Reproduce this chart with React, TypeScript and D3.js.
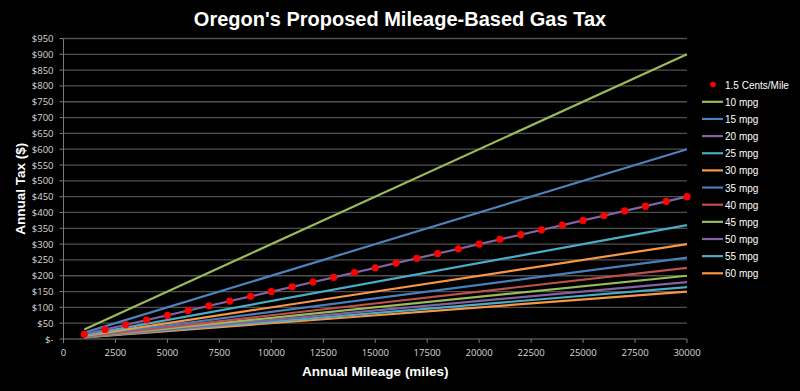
import * as d3 from "d3";

// legend / series labels
const mpgLabels = ["10 mpg", "15 mpg", "20 mpg", "25 mpg", "30 mpg", "35 mpg", "40 mpg", "45 mpg", "50 mpg", "55 mpg", "60 mpg"];
const mpgColors = ["#9bbb59", "#4f81bd", "#8064a2", "#4bacc6", "#f79646", "#4a7ebb", "#c0504d", "#9bbb59", "#8064a2", "#4bacc6", "#f79646"];
// tax at 1000 miles and at 30000 miles
const startMiles = 1000;
const endMiles = 30000;
const startTax = [30, 20, 15, 12, 10, 8.6, 7.5, 6.7, 6, 5.5, 5];
const endTax = [900, 600, 450, 360, 300, 257, 225, 200, 180, 164, 150];

// 1.5 cents/mile points
const centMiles = [1000, 2000, 3000, 4000, 5000, 6000, 7000, 8000, 9000, 10000, 11000, 12000, 13000, 14000, 15000, 16000, 17000, 18000, 19000, 20000, 21000, 22000, 23000, 24000, 25000, 26000, 27000, 28000, 29000, 30000];
const centTax = [15, 30, 45, 60, 75, 90, 105, 120, 135, 150, 165, 180, 195, 210, 225, 240, 255, 270, 285, 300, 315, 330, 345, 360, 375, 390, 405, 420, 435, 450];

const xTicks = [0, 2500, 5000, 7500, 10000, 12500, 15000, 17500, 20000, 22500, 25000, 27500, 30000];
const yTicks = d3.range(0, 1000, 50);

const W = 800;
const H = 391;
const M = { left: 63.5, right: 113, top: 38.5, bottom: 52 };

const App = () => {
  const x = d3.scaleLinear().domain([0, 30000]).range([M.left, W - M.right]);
  const y = d3.scaleLinear().domain([0, 950]).range([H - M.bottom, M.top]);
  const line = d3
    .line<[number, number]>()
    .x((d) => x(d[0]))
    .y((d) => y(d[1]));
  const font = "'Liberation Sans', Arial, sans-serif";
  const tickFont = "'Open Sans', 'DejaVu Sans', sans-serif";

  return (
    <svg width={W} height={H} style={{ position: "absolute", left: 0, top: 0, background: "#000" }}>
      <rect x={0} y={0} width={W} height={H} fill="#000" />
      <text x={400} y={26} textAnchor="middle" fill="#fff" fontFamily={font} fontWeight="bold" fontSize={20}>
        Oregon's Proposed Mileage-Based Gas Tax
      </text>

      {/* gridlines + y ticks */}
      {yTicks.map((t) => (
        <g key={t}>
          {t > 0 && (
            <line x1={M.left} x2={W - M.right} y1={y(t)} y2={y(t)} stroke="#505050" strokeWidth={1.3} />
          )}
          <line x1={M.left - 4} x2={M.left} y1={y(t)} y2={y(t)} stroke="#7a7a7a" />
          <text x={M.left - 10} y={y(t) + 3.5} textAnchor="end" fill="#d8d8d8" fontFamily={tickFont} fontSize={9.5}>
            {t === 0 ? "$-" : "$" + t}
          </text>
        </g>
      ))}
      <line x1={M.left} x2={M.left} y1={y(950)} y2={y(0)} stroke="#7a7a7a" />
      <line x1={M.left} x2={W - M.right} y1={y(0)} y2={y(0)} stroke="#7a7a7a" />
      {xTicks.map((t) => (
        <g key={t}>
          <line x1={x(t)} x2={x(t)} y1={y(0)} y2={y(0) + 4} stroke="#7a7a7a" />
          <text x={x(t)} y={y(0) + 17} textAnchor="middle" fill="#d8d8d8" fontFamily={tickFont} fontSize={9.5}>
            {t}
          </text>
        </g>
      ))}

      <text x={x(15000)} y={376} textAnchor="middle" fill="#fff" fontFamily={font} fontWeight="bold" fontSize={13.5}>
        Annual Mileage (miles)
      </text>
      <text
        transform={`translate(25,${(y(0) + y(950)) / 2}) rotate(-90)`}
        textAnchor="middle"
        fill="#fff"
        fontFamily={font}
        fontWeight="bold"
        fontSize={13.5}
      >
        Annual Tax ($)
      </text>

      {/* mpg lines, drawn last-first so 10 mpg is on top */}
      {mpgLabels
        .map((lab, i) => (
          <path
            key={lab}
            d={line([
              [startMiles, startTax[i]],
              [endMiles, endTax[i]],
            ]) as string}
            stroke={mpgColors[i]}
            strokeWidth={2.2}
            fill="none"
          />
        ))
        .reverse()}

      {centMiles.map((m, i) => (
        <circle key={m} cx={x(m)} cy={y(centTax[i])} r={3.6} fill="#ff0000" />
      ))}

      {/* legend */}
      <circle cx={713} cy={84.5} r={2.8} fill="#ff0000" />
      <text x={725} y={89} fill="#fff" fontFamily={font} fontSize={10}>
        1.5 Cents/Mile
      </text>
      {mpgLabels.map((lab, i) => {
        const ly = 101.8 + i * 17.15;
        return (
          <g key={lab}>
            <line x1={702} x2={723} y1={ly} y2={ly} stroke={mpgColors[i]} strokeWidth={2.2} />
            <text x={725} y={ly + 4} fill="#fff" fontFamily={font} fontSize={10}>
              {lab}
            </text>
          </g>
        );
      })}
    </svg>
  );
};

export default App;
